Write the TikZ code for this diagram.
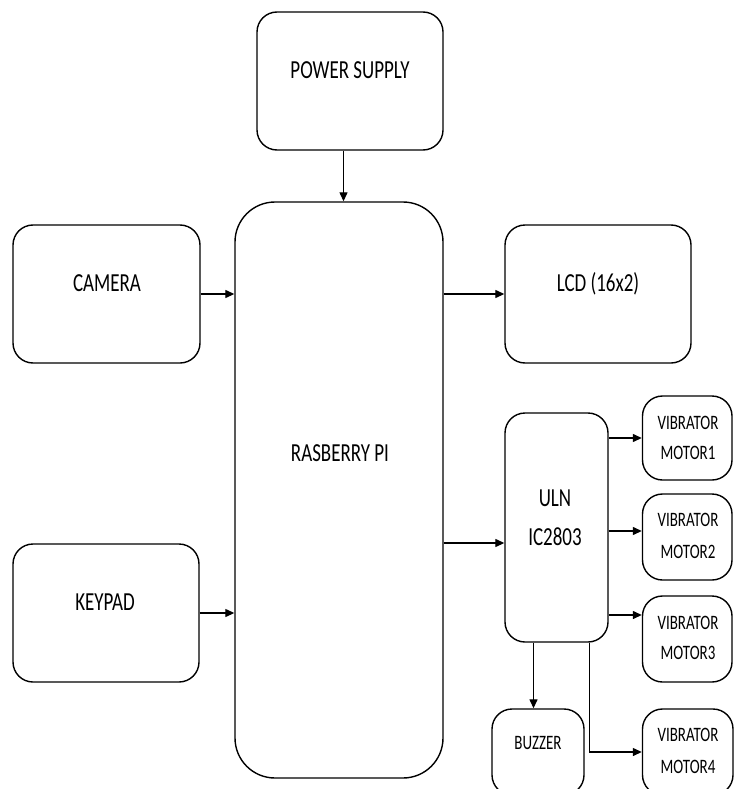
\documentclass[tikz,border=0pt]{standalone}
\usepackage{fontspec}
\newfontfamily\calib{Carlito}[FakeStretch=0.73]
\usetikzlibrary{arrows.meta}
\begin{document}
\begin{tikzpicture}[x=1pt,y=-1pt,
  box/.style={draw=black, line width=1.4pt, rounded corners=20pt, inner sep=0pt, fill=white},
  bigbox/.style={box, rounded corners=40pt},
  bigtxt/.style={font=\calib\fontsize{26}{30}\selectfont, inner sep=0pt, text height=16.7pt, text depth=0pt, anchor=center},
  smalltxt/.style={font=\calib\fontsize{20.5}{24}\selectfont, inner sep=0pt, text height=13.2pt, text depth=0pt, anchor=center},
  arr/.style={line width=1.3pt, -{Triangle[length=9pt,width=8pt]}},
  ln/.style={line width=1.3pt}]
\useasboundingbox (0,0) rectangle (740,789);
\clip (0,0) rectangle (740,789);
\fill[white] (0,0) rectangle (740,789);

% boxes
\node[box, minimum width=186pt, minimum height=138pt] (ps) at (350,81) {};
\node[bigbox, minimum width=208pt, minimum height=576pt] (rpi) at (339,490) {};
\node[box, minimum width=187pt, minimum height=138pt] (cam) at (106.5,294) {};
\node[box, minimum width=186pt, minimum height=138pt] (kp) at (106,613) {};
\node[box, minimum width=186pt, minimum height=138pt] (lcd) at (598,294) {};
\node[box, minimum width=103pt, minimum height=229pt] (uln) at (556.5,527.5) {};
\node[box, minimum width=89.5pt, minimum height=84pt] (m1) at (687.25,438) {};
\node[box, minimum width=89.5pt, minimum height=86pt] (m2) at (687.25,537) {};
\node[box, minimum width=89.5pt, minimum height=86pt] (m3) at (687.25,639) {};
\node[box, minimum width=90.5pt, minimum height=86pt] (m4) at (687.75,752) {};
\node[box, minimum width=92pt, minimum height=86pt] (buz) at (538,752) {};

% texts
\node[bigtxt] (tps) at (350,70) {POWER SUPPLY};
\node[bigtxt] (trpi) at (340,453) {RASBERRY PI};
\node[bigtxt] (tcam) at (107,283) {CAMERA};
\node[bigtxt] (tkp) at (105,602) {KEYPAD};
\node[bigtxt] (tlcd) at (598,283) {LCD (16x2)};
\node[bigtxt] (tuln1) at (555,498) {ULN};
\node[bigtxt] (tuln2) at (555,537) {IC2803};
\node[smalltxt] (tm1a) at (688,423) {VIBRATOR};
\node[smalltxt] (tm1b) at (688,453) {MOTOR1};
\node[smalltxt] (tm2a) at (688,520) {VIBRATOR};
\node[smalltxt] (tm2b) at (688,552) {MOTOR2};
\node[smalltxt] (tm3a) at (688,623) {VIBRATOR};
\node[smalltxt] (tm3b) at (688,653) {MOTOR3};
\node[smalltxt] (tm4a) at (688,735) {VIBRATOR};
\node[smalltxt] (tm4b) at (688,767) {MOTOR4};
\node[smalltxt] (tbuz) at (538,743) {BUZZER};

% coordinates for connector levels
\coordinate (yuln) at (0,543);
\coordinate (ym2) at (0,531);
\coordinate (ym3) at (0,615);
\coordinate (xbuz) at (533.5,0);
\coordinate (xm4) at (589.5,0);
\coordinate (xps) at (343.5,0);

% connectors
\draw[arr] (ps.south -| xps) -- (rpi.north -| xps);
\draw[arr] (cam.east) -- (cam.east -| rpi.west);
\draw[arr] (kp.east) -- (kp.east -| rpi.west);
\draw[arr] (rpi.east |- lcd.west) -- (lcd.west);
\draw[arr] (rpi.east |- yuln) -- (uln.west |- yuln);
\draw[arr] (uln.east |- m1.west) -- (m1.west);
\draw[arr] (uln.east |- ym2) -- (m2.west |- ym2);
\draw[arr] (uln.east |- ym3) -- (m3.west |- ym3);
\draw[arr] (uln.south -| xbuz) -- (buz.north -| xbuz);
\draw[arr] (uln.south -| xm4) |- (m4.west);
\end{tikzpicture}
\end{document}
